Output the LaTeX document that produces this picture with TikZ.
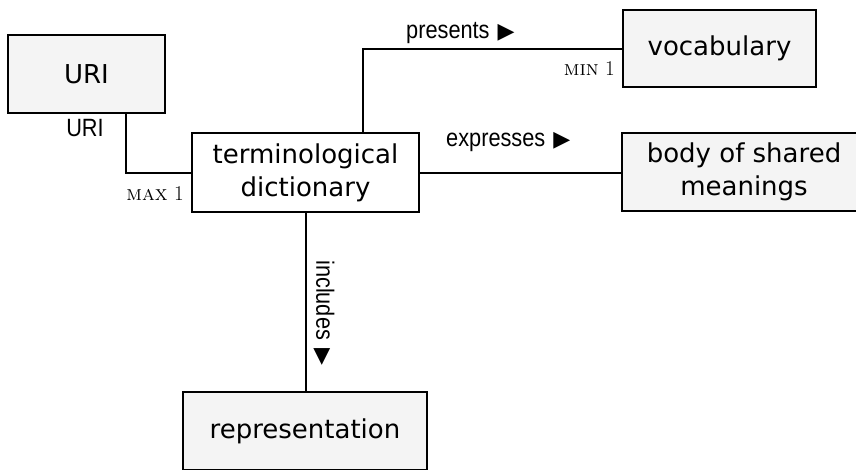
\documentclass[tikz,border=0pt]{standalone}
\usepackage{fontspec}
\newfontfamily\boxfont{DejaVu Sans}
\newfontfamily\labfont[FakeStretch=0.87]{Liberation Sans}
\newfontfamily\symfont{DejaVu Sans}
\definecolor{boxgray}{HTML}{F4F4F4}
\tikzset{
  cls/.style={draw=black, line width=2pt, fill=boxgray, minimum height=78pt,
    inner sep=0pt, align=center, font=\boxfont\fontsize{26}{33}\selectfont},
  conn/.style={line width=2pt, draw=black},
  lab/.style={inner sep=0pt, font=\labfont\fontsize{25}{28}\selectfont},
  mult/.style={inner sep=0pt, font=\fontsize{21}{23}\selectfont}
}
\newcommand{\tri}{\hspace{8pt}{\symfont\fontsize{22}{24}\selectfont ▶}}
\begin{document}
\begin{tikzpicture}[x=1pt,y=-1pt]
\useasboundingbox (0,0) rectangle (856,469);
\clip (0,0) rectangle (856,469);
\node[cls, minimum width=157pt] (uri) at (86.5,74) {URI};
\node[cls, fill=white, minimum width=227pt, minimum height=79pt] (dict) at (305.5,172.5) {terminological\\dictionary};
\node[cls, minimum width=193pt, minimum height=77pt] (vocab) at (719.5,48.5) {vocabulary};
\node[cls, minimum width=244pt] (body) at (744,172) {body of shared\\meanings};
\node[cls, minimum width=244pt] (rep) at (305,431) {representation};
\draw[conn] ([xshift=39.5pt]uri.south) |- (dict.west);
\draw[conn] ([xshift=57.5pt]dict.north) |- (vocab.west);
\draw[conn] (dict.east) -- (dict.east -| body.west);
\draw[conn] (dict.south) -- (dict.south |- rep.north);
\node[lab] (luri) at (85,128) {URI};
\node[mult, anchor=east] (lmax) at (184,194) {\textsc{max}~1};
\node[lab, anchor=west] (lpres) at (406,33) {presents\tri};
\node[mult, anchor=east] (lmin) at (615,69) {\textsc{min}~1};
\node[lab, anchor=west] (lexp) at (446,142) {expresses\tri};
\node[lab, rotate=-90, anchor=west] (linc) at (324,260) {includes\tri};
\end{tikzpicture}
\end{document}
